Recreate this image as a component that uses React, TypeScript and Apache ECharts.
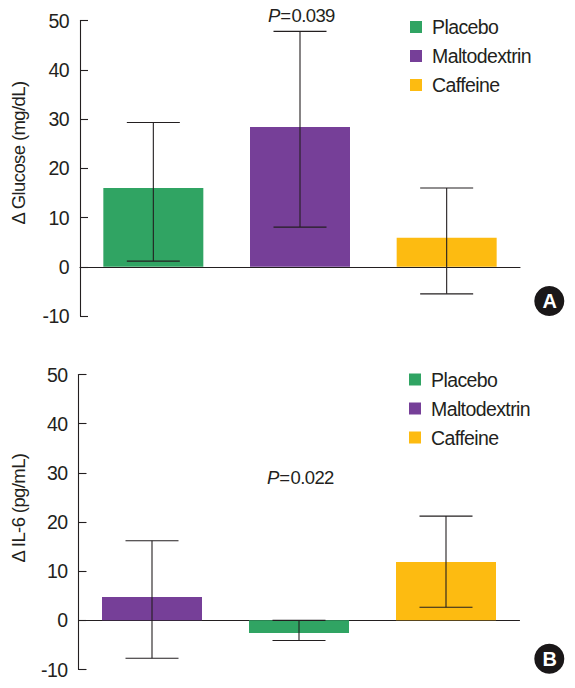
import React, { useEffect, useRef } from "react";
import * as echarts from "echarts";

const groups = ["Placebo", "Maltodextrin", "Caffeine"];
const colors: Record<string, string> = { Placebo: "#30a463", Maltodextrin: "#763f98", Caffeine: "#fdbb11" };

const orderA = ["Placebo", "Maltodextrin", "Caffeine"];
const meansA = [16.0, 28.4, 5.9];
const highA = [29.3, 47.8, 16.0];
const lowA = [1.15, 8.05, -5.5];

const orderB = ["Maltodextrin", "Placebo", "Caffeine"];
const meansB = [4.75, -2.6, 11.85];
const highB = [16.2, 0, 21.2];
const lowB = [-7.7, -4.1, 2.65];

const yTicksMin = -10;
const yTicksMax = 50;
const yInterval = 10;

const INK = "#231f20";
const FONT = "'Liberation Sans', sans-serif";
const FS = 19.5;
const FS_SMALL = 18.5;

function barSeries(order: string[], means: number[], axis: number) {
  return groups.map((g) => ({
    type: "bar",
    name: g,
    xAxisIndex: axis,
    yAxisIndex: axis,
    barWidth: 100,
    barGap: "-100%",
    itemStyle: { color: colors[g] },
    data: order.map((o, i) => (o === g ? means[i] : null)),
    z: 2,
  }));
}

function errorSeries(order: string[], high: number[], low: number[], axis: number) {
  return {
    type: "custom",
    name: "error" + axis,
    xAxisIndex: axis,
    yAxisIndex: axis,
    z: 5,
    clip: false,
    encode: { x: 0, y: [1, 2] },
    data: order.map((o, i) => [o, high[i], low[i]]),
    renderItem(_p: any, api: any) {
      const x = api.coord([api.value(0), 0])[0];
      const yh = api.coord([api.value(0), api.value(1)])[1];
      const yl = api.coord([api.value(0), api.value(2)])[1];
      const cap = 26.5;
      const style = { stroke: INK, lineWidth: 1.1, fill: "none" };
      return {
        type: "group",
        children: [
          { type: "line", shape: { x1: x, y1: yh, x2: x, y2: yl }, style },
          { type: "line", shape: { x1: x - cap, y1: yh, x2: x + cap, y2: yh }, style },
          { type: "line", shape: { x1: x - cap, y1: yl, x2: x + cap, y2: yl }, style },
        ],
      };
    },
  };
}

function legendAt(left: number, top: number) {
  return {
    orient: "vertical",
    left,
    top,
    data: groups,
    icon: "rect",
    itemWidth: 12,
    itemHeight: 12,
    itemGap: 5,
    selectedMode: false,
    textStyle: {
      fontFamily: FONT,
      fontSize: FS,
      color: INK,
      lineHeight: 24,
      padding: [0, 0, 0, 5],
    },
  };
}

function yAxis(gridIndex: number) {
  return {
    type: "value",
    gridIndex,
    min: yTicksMin,
    max: yTicksMax,
    interval: yInterval,
    splitLine: { show: false },
    axisLine: { show: true, onZero: false, lineStyle: { color: INK, width: 1.1 } },
    axisTick: { show: true, inside: true, length: 8, lineStyle: { color: INK, width: 1.1 } },
    axisLabel: { margin: 11, color: INK, fontFamily: FONT, fontSize: FS },
  };
}

function xAxis(gridIndex: number, cats: string[]) {
  return {
    type: "category",
    gridIndex,
    data: cats,
    axisLine: { show: true, onZero: true, lineStyle: { color: INK, width: 1.1 } },
    axisTick: { show: false },
    axisLabel: { show: false },
  };
}

function pText(x: number, y: number, value: string) {
  return {
    type: "text",
    x,
    y,
    style: {
      text: `{i|P}{n|${value}}`,
      verticalAlign: "middle",
      rich: {
        i: { fontFamily: FONT, fontSize: FS_SMALL, fontStyle: "italic", fill: INK, color: INK },
        n: { fontFamily: FONT, fontSize: FS_SMALL, fill: INK, color: INK },
      },
    },
  };
}

function yTitle(x: number, y: number, text: string) {
  return {
    type: "text",
    x,
    y,
    rotation: Math.PI / 2,
    style: { text, fontFamily: FONT, fontSize: FS_SMALL, fill: INK, align: "center", verticalAlign: "middle" },
  };
}

function badge(x: number, y: number, text: string) {
  return {
    type: "group",
    children: [
      { type: "circle", shape: { cx: x, cy: y, r: 15 }, style: { fill: "#1a1718" } },
      {
        type: "text",
        x,
        y,
        style: {
          text,
          fontFamily: FONT,
          fontWeight: "bold",
          fontSize: 20,
          fill: "#ffffff",
          align: "center",
          verticalAlign: "middle",
        },
      },
    ],
  };
}

export default function App() {
  const ref = useRef<HTMLDivElement>(null);
  useEffect(() => {
    if (!ref.current) return;
    const chart = echarts.init(ref.current, undefined, { renderer: "svg" });
    chart.setOption({
      animation: false,
      backgroundColor: "#ffffff",
      grid: [
        { left: 80, width: 440, top: 20.5, height: 295.5 },
        { left: 78.5, width: 441, top: 374.5, height: 295 },
      ],
      xAxis: [xAxis(0, orderA), xAxis(1, orderB)],
      yAxis: [yAxis(0), yAxis(1)],
      legend: [legendAt(405, 10), legendAt(404, 362.5)],
      series: [
        ...barSeries(orderA, meansA, 0),
        errorSeries(orderA, highA, lowA, 0),
        ...barSeries(orderB, meansB, 1),
        errorSeries(orderB, highB, lowB, 1),
      ],
      graphic: [
        pText(268, 15, "=\u200a0.039"),
        pText(267, 477, "=\u200a0.022"),
        yTitle(18, 153, "Δ Glucose (mg/dL)"),
        yTitle(18, 508, "Δ IL-6 (pg/mL)"),
        badge(549.3, 301, "A"),
        badge(549.3, 658.7, "B"),
      ],
    });
    return () => chart.dispose();
  }, []);
  return (
    <>
      <style>{"svg text { letter-spacing: -0.6px; }"}</style>
      <div ref={ref} style={{ position: "absolute", left: 0, top: 0, width: 575, height: 688 }} />
    </>
  );
}
